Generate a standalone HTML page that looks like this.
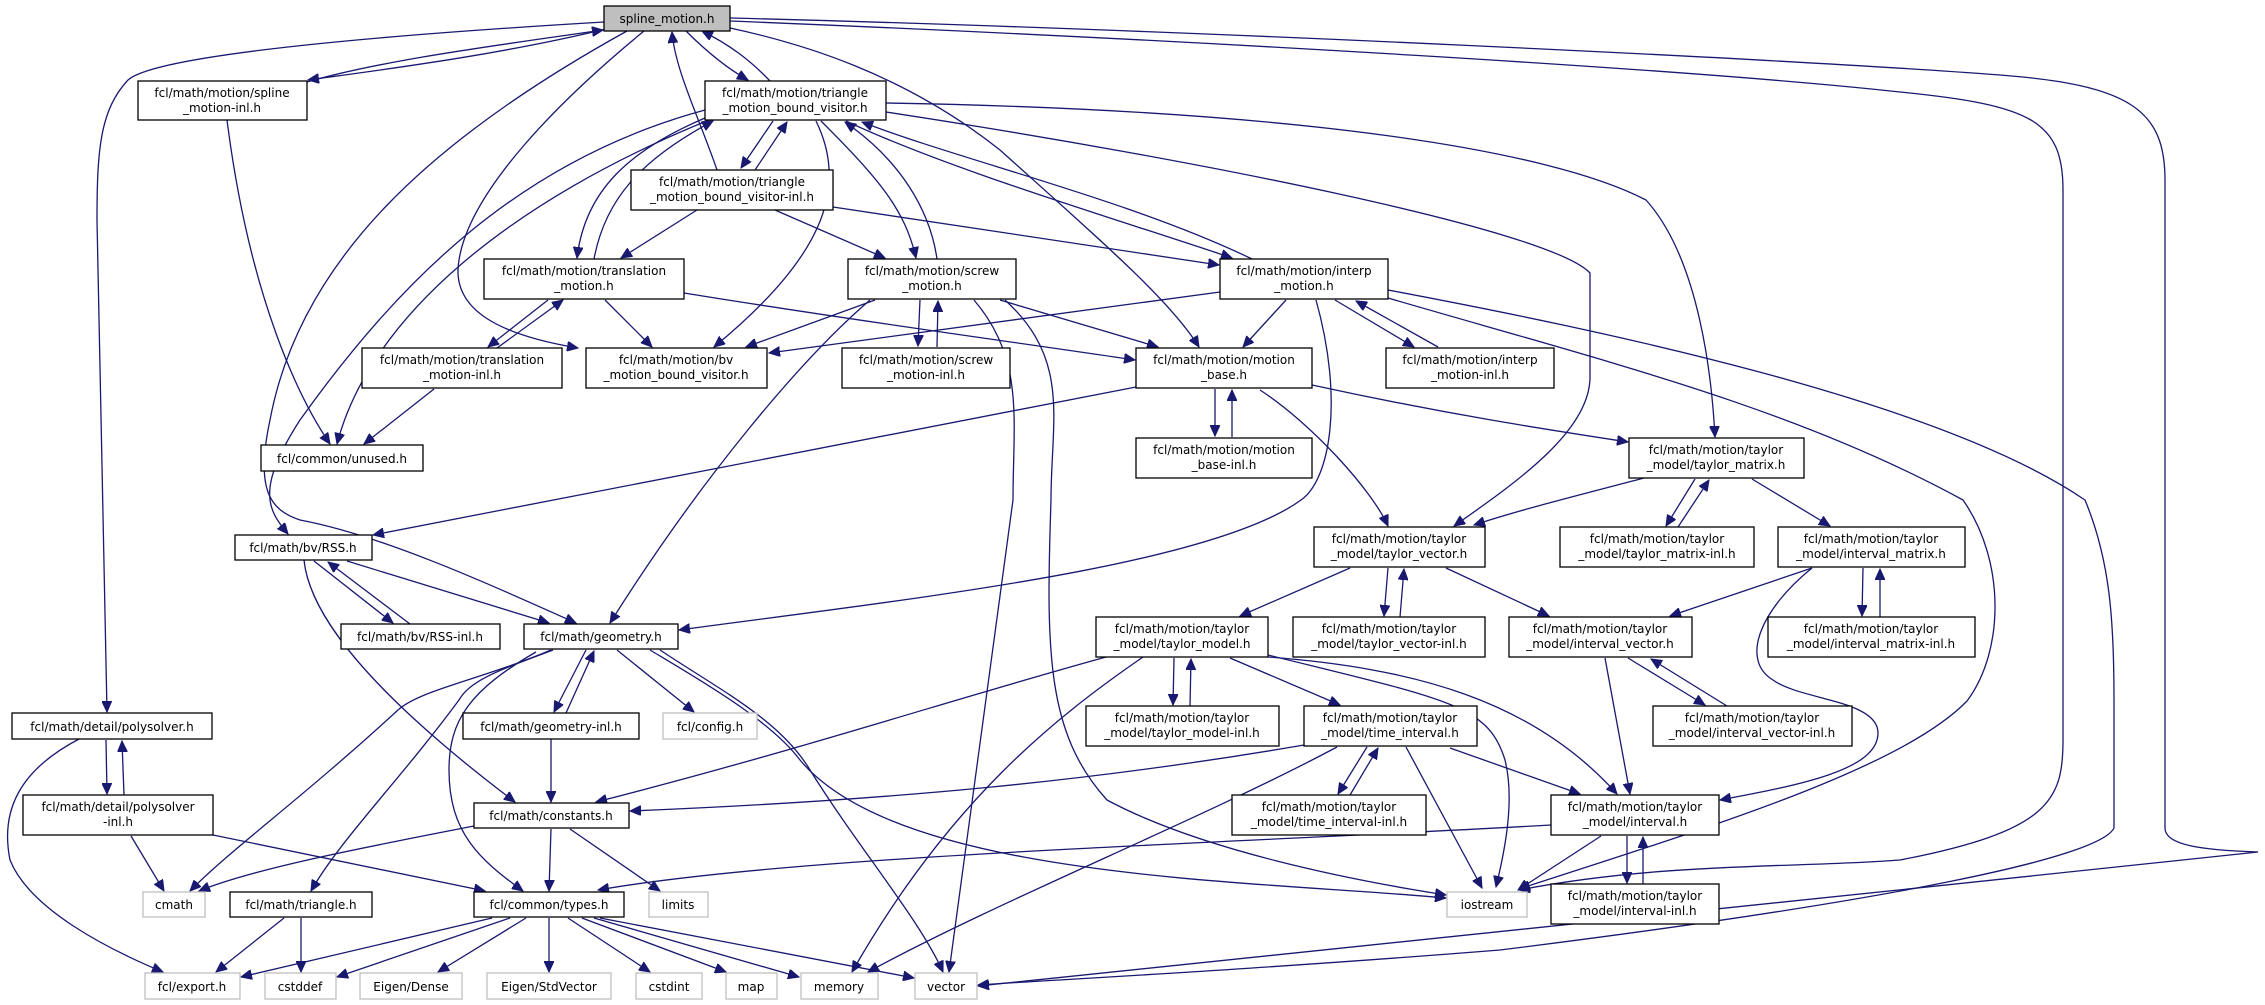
<!DOCTYPE html>
<html><head><meta charset="utf-8"><style>
html,body{margin:0;padding:0;background:#fff}
svg{display:block}
text{font-family:"DejaVu Sans","Liberation Sans",sans-serif;font-size:12px;fill:#000}
.e{fill:none;stroke:#191970;stroke-width:1.3}
.n{fill:#fff;stroke:#000;stroke-width:1.3}
.g{fill:#fff;stroke:#bfbfbf;stroke-width:1.3}
</style></head><body>
<svg width="2265" height="1005" viewBox="0 0 2265 1005" xmlns="http://www.w3.org/2000/svg">
<defs><marker id="a" markerUnits="userSpaceOnUse" markerWidth="12" markerHeight="10" refX="11" refY="5" orient="auto"><path d="M0,0 L11,5 L0,10 z" fill="#191970" stroke="#191970"/></marker></defs>
<g class="e" marker-end="url(#a)">
<!-- spline_motion.h -->
<path d="M610,28 C500,55 380,70 308,80"/>
<path d="M300,84 C380,60 500,45 603,30"/>
<path d="M604,22 C300,40 150,60 128,80 C100,110 97,150 97,220 L107,712"/>
<path d="M627,31 C430,140 300,260 270,420 C255,490 270,510 300,520 C380,535 480,580 576,623"/>
<path d="M644,31 C560,100 470,190 459,260 C450,310 500,335 578,348"/>
<path d="M686,31 C710,55 730,70 748,80"/>
<path d="M770,81 C750,60 730,45 702,31"/>
<path d="M717,170 C700,120 675,70 672,32"/>
<path d="M730,28 C800,43 903,73 1000,150 C1100,240 1170,300 1199,347"/>
<path d="M730,18 C1200,30 1800,60 2000,75 C2130,85 2165,110 2165,180 L2165,828 C2165,845 2200,850 2258,852 C1800,900 1250,960 978,986"/>
<path d="M730,21 C1200,40 1700,70 1900,92 C2030,105 2063,120 2063,190 L2063,740 C2063,800 2050,831 1900,860 C1800,868 1663,862 1519,890"/>
<!-- triangle visitor -->
<path d="M773,121 L741,168"/>
<path d="M755,170 L787,122"/>
<path d="M705,118 C630,150 585,190 577,258"/>
<path d="M594,259 C605,200 640,160 713,121"/>
<path d="M714,118 C510,200 370,317 337,444"/>
<path d="M705,110 C520,160 400,280 300,420 C255,490 268,510 288,534"/>
<path d="M816,121 C850,190 820,260 714,347"/>
<path d="M821,121 C880,180 905,210 916,258"/>
<path d="M937,259 C930,210 900,160 845,122"/>
<path d="M846,121 C950,170 1120,220 1232,258"/>
<path d="M1252,259 C1130,200 960,160 862,122"/>
<path d="M886,103 C1300,110 1550,150 1646,200 C1700,260 1712,380 1715,437"/>
<path d="M886,112 C1200,160 1550,230 1590,273 L1590,377 C1590,430 1520,480 1454,526"/>
<!-- triangle-inl -->
<path d="M697,210 L621,258"/>
<path d="M775,210 L885,258"/>
<path d="M833,207 L1219,265"/>
<!-- spline-inl -->
<path d="M227,120 C250,300 300,400 330,444"/>
<!-- translation -->
<path d="M548,300 L488,347"/>
<path d="M497,348 L563,300"/>
<path d="M605,300 L652,347"/>
<path d="M684,293 C850,320 1000,340 1135,360"/>
<path d="M434,389 L364,444"/>
<!-- screw -->
<path d="M875,300 L746,347"/>
<path d="M920,300 L918,346"/>
<path d="M937,347 L938,301"/>
<path d="M1000,300 L1158,347"/>
<path d="M870,300 C800,360 700,480 610,623"/>
<path d="M974,300 C1025,360 1013,420 1013,500 L949,972"/>
<path d="M1005,300 C1071,360 1051,420 1051,500 C1046,650 1046,733 1107,800 C1200,850 1350,880 1446,895"/>
<!-- interp -->
<path d="M1220,292 L769,353"/>
<path d="M1286,300 L1243,347"/>
<path d="M1335,300 L1414,347"/>
<path d="M1438,347 L1356,301"/>
<path d="M1316,300 C1344,400 1330,480 1301,500 C1209,567 900,600 679,630"/>
<path d="M1388,290 C1600,330 1939,400 2085,500 C2110,560 2114,620 2114,700 L2114,828 C2100,857 1900,900 1500,950 C1250,970 1050,980 978,985"/>
<path d="M1388,298 C1600,360 1793,407 1963,500 C2005,560 2005,650 1967,701 C1900,770 1700,830 1519,889"/>
<!-- motion_base -->
<path d="M1215,389 L1215,436"/>
<path d="M1232,437 L1232,390"/>
<path d="M1136,387 C800,450 550,500 373,535"/>
<path d="M1260,390 C1311,423 1372,490 1388,526"/>
<path d="M1312,385 C1450,415 1550,430 1628,442"/>
<!-- taylor_matrix -->
<path d="M1695,479 L1666,526"/>
<path d="M1678,527 L1709,480"/>
<path d="M1752,479 L1830,526"/>
<path d="M1644,478 C1560,500 1520,510 1474,525"/>
<!-- taylor_vector -->
<path d="M1350,568 L1240,616"/>
<path d="M1388,568 L1384,616"/>
<path d="M1400,617 L1404,569"/>
<path d="M1446,568 L1549,616"/>
<!-- interval_matrix -->
<path d="M1812,568 L1670,616"/>
<path d="M1863,568 L1862,616"/>
<path d="M1880,617 L1880,569"/>
<path d="M1812,568 C1760,610 1740,660 1773,680 C1800,700 1878,700 1878,733 C1878,770 1800,785 1720,800"/>
<!-- interval_vector -->
<path d="M1605,658 L1630,794"/>
<path d="M1628,658 L1705,705"/>
<path d="M1727,706 L1651,659"/>
<!-- taylor_model -->
<path d="M1174,658 L1173,705"/>
<path d="M1190,706 L1191,659"/>
<path d="M1230,658 L1340,705"/>
<path d="M1106,657 C950,700 800,750 596,802"/>
<path d="M1143,657 C1056,717 950,800 852,972"/>
<path d="M1268,657 C1413,668 1533,700 1617,794"/>
<path d="M1268,655 C1450,700 1488,705 1505,760 C1515,800 1505,850 1496,887"/>
<!-- time_interval -->
<path d="M1367,747 L1338,794"/>
<path d="M1350,795 L1378,748"/>
<path d="M1304,745 C1100,780 900,800 630,811"/>
<path d="M1337,747 C1200,820 1000,900 868,972"/>
<path d="M1406,747 L1482,888"/>
<path d="M1450,748 L1580,794"/>
<!-- interval -->
<path d="M1601,836 L1518,890"/>
<path d="M1551,825 C1200,845 800,855 598,890"/>
<path d="M1627,836 L1627,883"/>
<path d="M1643,884 L1643,837"/>
<!-- RSS -->
<path d="M314,561 L393,623"/>
<path d="M410,624 L328,562"/>
<path d="M347,561 L549,623"/>
<path d="M304,560 C310,620 380,700 515,802"/>
<!-- geometry -->
<path d="M586,650 L554,712"/>
<path d="M566,713 L594,651"/>
<path d="M617,650 L694,712"/>
<path d="M551,650 C480,680 420,690 398,710 C300,800 230,850 190,891"/>
<path d="M553,650 C500,670 470,680 459,700 C400,780 340,840 311,891"/>
<path d="M536,652 C470,690 449,720 449,770 C449,833 480,860 523,891"/>
<path d="M650,650 C700,680 770,720 800,760 C900,880 1250,880 1446,898"/>
<path d="M660,650 C720,690 780,720 810,770 C860,850 920,920 943,972"/>
<!-- geometry-inl -->
<path d="M551,739 L551,802"/>
<!-- polysolver -->
<path d="M106,740 L107,794"/>
<path d="M124,795 L122,741"/>
<path d="M79,739 C20,770 0,810 10,860 C30,910 110,950 163,972"/>
<path d="M131,836 L164,891"/>
<path d="M213,835 L485,891"/>
<!-- constants -->
<path d="M474,826 C350,850 250,870 199,891"/>
<path d="M551,829 L549,891"/>
<path d="M570,829 L660,891"/>
<!-- types -->
<path d="M492,918 L241,977"/>
<path d="M510,918 L337,977"/>
<path d="M526,918 L438,972"/>
<path d="M549,918 L549,972"/>
<path d="M568,918 L650,972"/>
<path d="M582,918 L726,972"/>
<path d="M594,918 L799,977"/>
<path d="M600,918 L914,978"/>
<!-- triangle.h -->
<path d="M284,918 L216,972"/>
<path d="M301,918 L301,972"/>
</g>
<!-- nodes -->
<g>
<rect x="604" y="6" width="126" height="25" fill="#bfbfbf" stroke="#000" stroke-width="1.3"/>
<text x="667" y="23" text-anchor="middle">spline_motion.h</text>
</g>
<g text-anchor="middle">
<rect class="n" x="138" y="81" width="169" height="39"/><text x="222" y="97" text-anchor="middle">fcl/math/motion/spline</text><text x="222" y="112" text-anchor="middle">_motion-inl.h</text>
<rect class="n" x="705" y="81" width="181" height="39"/><text x="795" y="97" text-anchor="middle">fcl/math/motion/triangle</text><text x="795" y="112" text-anchor="middle">_motion_bound_visitor.h</text>
<rect class="n" x="631" y="170" width="202" height="40"/><text x="732" y="186" text-anchor="middle">fcl/math/motion/triangle</text><text x="732" y="201" text-anchor="middle">_motion_bound_visitor-inl.h</text>
<rect class="n" x="484" y="259" width="200" height="40"/><text x="584" y="275" text-anchor="middle">fcl/math/motion/translation</text><text x="584" y="290" text-anchor="middle">_motion.h</text>
<rect class="n" x="848" y="259" width="168" height="40"/><text x="932" y="275" text-anchor="middle">fcl/math/motion/screw</text><text x="932" y="290" text-anchor="middle">_motion.h</text>
<rect class="n" x="1220" y="259" width="168" height="40"/><text x="1304" y="275" text-anchor="middle">fcl/math/motion/interp</text><text x="1304" y="290" text-anchor="middle">_motion.h</text>
<rect class="n" x="362" y="348" width="200" height="40"/><text x="462" y="364" text-anchor="middle">fcl/math/motion/translation</text><text x="462" y="379" text-anchor="middle">_motion-inl.h</text>
<rect class="n" x="586" y="348" width="181" height="40"/><text x="676" y="364" text-anchor="middle">fcl/math/motion/bv</text><text x="676" y="379" text-anchor="middle">_motion_bound_visitor.h</text>
<rect class="n" x="842" y="348" width="168" height="40"/><text x="926" y="364" text-anchor="middle">fcl/math/motion/screw</text><text x="926" y="379" text-anchor="middle">_motion-inl.h</text>
<rect class="n" x="1136" y="348" width="176" height="40"/><text x="1224" y="364" text-anchor="middle">fcl/math/motion/motion</text><text x="1224" y="379" text-anchor="middle">_base.h</text>
<rect class="n" x="1386" y="348" width="168" height="40"/><text x="1470" y="364" text-anchor="middle">fcl/math/motion/interp</text><text x="1470" y="379" text-anchor="middle">_motion-inl.h</text>
<rect class="n" x="261" y="445" width="162" height="26"/><text x="342" y="463" text-anchor="middle">fcl/common/unused.h</text>
<rect class="n" x="1136" y="438" width="176" height="40"/><text x="1224" y="454" text-anchor="middle">fcl/math/motion/motion</text><text x="1224" y="469" text-anchor="middle">_base-inl.h</text>
<rect class="n" x="1629" y="438" width="175" height="40"/><text x="1716" y="454" text-anchor="middle">fcl/math/motion/taylor</text><text x="1716" y="469" text-anchor="middle">_model/taylor_matrix.h</text>
<rect class="n" x="235" y="535" width="137" height="25"/><text x="303" y="552" text-anchor="middle">fcl/math/bv/RSS.h</text>
<rect class="n" x="1314" y="527" width="171" height="40"/><text x="1399" y="543" text-anchor="middle">fcl/math/motion/taylor</text><text x="1399" y="558" text-anchor="middle">_model/taylor_vector.h</text>
<rect class="n" x="1560" y="527" width="194" height="40"/><text x="1657" y="543" text-anchor="middle">fcl/math/motion/taylor</text><text x="1657" y="558" text-anchor="middle">_model/taylor_matrix-inl.h</text>
<rect class="n" x="1778" y="527" width="187" height="40"/><text x="1871" y="543" text-anchor="middle">fcl/math/motion/taylor</text><text x="1871" y="558" text-anchor="middle">_model/interval_matrix.h</text>
<rect class="n" x="341" y="624" width="159" height="25"/><text x="420" y="641" text-anchor="middle">fcl/math/bv/RSS-inl.h</text>
<rect class="n" x="524" y="624" width="154" height="25"/><text x="601" y="641" text-anchor="middle">fcl/math/geometry.h</text>
<rect class="n" x="1096" y="617" width="172" height="40"/><text x="1182" y="633" text-anchor="middle">fcl/math/motion/taylor</text><text x="1182" y="648" text-anchor="middle">_model/taylor_model.h</text>
<rect class="n" x="1293" y="617" width="192" height="40"/><text x="1389" y="633" text-anchor="middle">fcl/math/motion/taylor</text><text x="1389" y="648" text-anchor="middle">_model/taylor_vector-inl.h</text>
<rect class="n" x="1509" y="617" width="183" height="40"/><text x="1600" y="633" text-anchor="middle">fcl/math/motion/taylor</text><text x="1600" y="648" text-anchor="middle">_model/interval_vector.h</text>
<rect class="n" x="1768" y="617" width="207" height="40"/><text x="1871" y="633" text-anchor="middle">fcl/math/motion/taylor</text><text x="1871" y="648" text-anchor="middle">_model/interval_matrix-inl.h</text>
<rect class="n" x="12" y="713" width="200" height="26"/><text x="112" y="731" text-anchor="middle">fcl/math/detail/polysolver.h</text>
<rect class="n" x="463" y="713" width="176" height="26"/><text x="551" y="731" text-anchor="middle">fcl/math/geometry-inl.h</text>
<rect class="g" x="663" y="713" width="94" height="26"/><text x="710" y="731" text-anchor="middle">fcl/config.h</text>
<rect class="n" x="1086" y="706" width="193" height="40"/><text x="1182" y="722" text-anchor="middle">fcl/math/motion/taylor</text><text x="1182" y="737" text-anchor="middle">_model/taylor_model-inl.h</text>
<rect class="n" x="1304" y="706" width="173" height="40"/><text x="1390" y="722" text-anchor="middle">fcl/math/motion/taylor</text><text x="1390" y="737" text-anchor="middle">_model/time_interval.h</text>
<rect class="n" x="1653" y="706" width="199" height="40"/><text x="1752" y="722" text-anchor="middle">fcl/math/motion/taylor</text><text x="1752" y="737" text-anchor="middle">_model/interval_vector-inl.h</text>
<rect class="n" x="23" y="795" width="190" height="40"/><text x="118" y="811" text-anchor="middle">fcl/math/detail/polysolver</text><text x="118" y="826" text-anchor="middle">-inl.h</text>
<rect class="n" x="474" y="803" width="155" height="25"/><text x="551" y="820" text-anchor="middle">fcl/math/constants.h</text>
<rect class="n" x="1232" y="795" width="194" height="40"/><text x="1329" y="811" text-anchor="middle">fcl/math/motion/taylor</text><text x="1329" y="826" text-anchor="middle">_model/time_interval-inl.h</text>
<rect class="n" x="1551" y="795" width="168" height="40"/><text x="1635" y="811" text-anchor="middle">fcl/math/motion/taylor</text><text x="1635" y="826" text-anchor="middle">_model/interval.h</text>
<rect class="g" x="143" y="892" width="62" height="25"/><text x="174" y="909" text-anchor="middle">cmath</text>
<rect class="n" x="230" y="892" width="142" height="25"/><text x="301" y="909" text-anchor="middle">fcl/math/triangle.h</text>
<rect class="n" x="474" y="892" width="150" height="25"/><text x="549" y="909" text-anchor="middle">fcl/common/types.h</text>
<rect class="g" x="649" y="892" width="59" height="25"/><text x="678" y="909" text-anchor="middle">limits</text>
<rect class="g" x="1447" y="892" width="80" height="25"/><text x="1487" y="909" text-anchor="middle">iostream</text>
<rect class="n" x="1551" y="884" width="168" height="40"/><text x="1635" y="900" text-anchor="middle">fcl/math/motion/taylor</text><text x="1635" y="915" text-anchor="middle">_model/interval-inl.h</text>
<rect class="g" x="145" y="973" width="95" height="26"/><text x="192" y="991" text-anchor="middle">fcl/export.h</text>
<rect class="g" x="265" y="973" width="71" height="26"/><text x="300" y="991" text-anchor="middle">cstddef</text>
<rect class="g" x="360" y="973" width="102" height="26"/><text x="411" y="991" text-anchor="middle">Eigen/Dense</text>
<rect class="g" x="487" y="973" width="124" height="26"/><text x="549" y="991" text-anchor="middle">Eigen/StdVector</text>
<rect class="g" x="636" y="973" width="66" height="26"/><text x="669" y="991" text-anchor="middle">cstdint</text>
<rect class="g" x="726" y="973" width="51" height="26"/><text x="751" y="991" text-anchor="middle">map</text>
<rect class="g" x="801" y="973" width="77" height="26"/><text x="839" y="991" text-anchor="middle">memory</text>
<rect class="g" x="915" y="973" width="62" height="26"/><text x="946" y="991" text-anchor="middle">vector</text>
</g>
</svg>
</body></html>
